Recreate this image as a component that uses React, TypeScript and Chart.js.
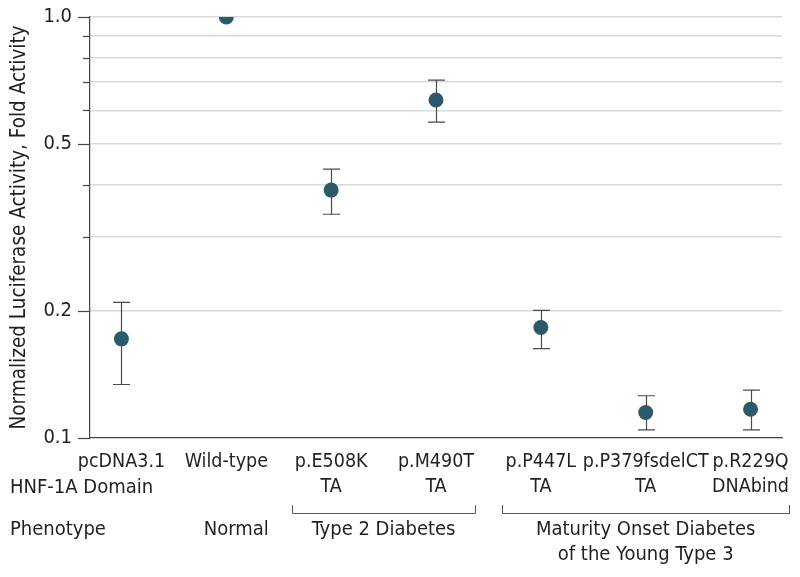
import React, { useEffect, useRef } from 'react';
import { Chart, registerables } from 'chart.js';

Chart.register(...registerables);

const categories = ['pcDNA3.1', 'Wild-type', 'p.E508K', 'p.M490T', 'p.P447L', 'p.P379fsdelCT', 'p.R229Q'];
const domains = ['', '', 'TA', 'TA', 'TA', 'TA', 'DNAbind'];
const foldActivity = [0.172, 1.0, 0.388, 0.635, 0.183, 0.115, 0.117];
const errorLow: (number | null)[] = [0.134, null, 0.340, 0.563, 0.163, 0.1045, 0.1045];
const errorHigh: (number | null)[] = [0.210, null, 0.435, 0.708, 0.201, 0.126, 0.130];

const yTickValues = [0.1, 0.2, 0.3, 0.4, 0.5, 0.6, 0.7, 0.8, 0.9, 1.0];
const yMajorTicks = [0.1, 0.2, 0.5, 1.0];
const yMajorLabels = ['0.1', '0.2', '0.5', '1.0'];

const phenotypeLabels = [['Normal'], ['Type 2 Diabetes'], ['Maturity Onset Diabetes', 'of the Young Type 3']];
const phenotypeStart = [1, 2, 4];
const phenotypeEnd = [1, 3, 6];
const phenotypeBracket = [false, true, true];

const FONT = "'DejaVu Sans Condensed', 'DejaVu Sans', sans-serif";
const FONT_SIZE = 20;
const TEXT = '#231f20';
const AXIS = '#444444';

const isMajor = (v: number) => yMajorTicks.some((m) => Math.abs(m - v) < 1e-9);

const errorBarPlugin = {
  id: 'errorBars',
  beforeDatasetsDraw(chart: any) {
    const { ctx, scales } = chart;
    const x = scales.x;
    const y = scales.y;
    ctx.save();
    ctx.strokeStyle = '#4a4a4a';
    ctx.lineWidth = 1.2;
    for (let i = 0; i < categories.length; i++) {
      const lo = errorLow[i];
      const hi = errorHigh[i];
      if (lo == null || hi == null) continue;
      const px = Math.round(x.getPixelForValue(i)) + 0.5;
      const yl = y.getPixelForValue(lo);
      const yh = y.getPixelForValue(hi);
      ctx.beginPath();
      ctx.moveTo(px, yl);
      ctx.lineTo(px, yh);
      ctx.moveTo(px - 8.5, yl);
      ctx.lineTo(px + 8.5, yl);
      ctx.moveTo(px - 8.5, yh);
      ctx.lineTo(px + 8.5, yh);
      ctx.stroke();
    }
    ctx.restore();
  },
};

const annotationPlugin = {
  id: 'annotations',
  afterDraw(chart: any) {
    const { ctx, scales } = chart;
    const x = scales.x;
    const y = scales.y;
    ctx.save();
    // y-axis tick marks
    ctx.strokeStyle = AXIS;
    ctx.lineWidth = 1.2;
    const left = y.right;
    for (const v of yTickValues) {
      const py = Math.round(y.getPixelForValue(v)) + 0.5;
      const len = isMajor(v) ? 12 : 7;
      ctx.beginPath();
      ctx.moveTo(left - len, py);
      ctx.lineTo(left, py);
      ctx.stroke();
    }
    // row labels
    ctx.fillStyle = TEXT;
    ctx.font = `${FONT_SIZE}px ${FONT}`;
    ctx.textBaseline = 'middle';
    ctx.textAlign = 'left';
    ctx.fillText('HNF-1A Domain', 10, 488);
    ctx.fillText('Phenotype', 10, 530);
    // phenotype groups
    const unit = x.getPixelForValue(1) - x.getPixelForValue(0);
    ctx.strokeStyle = '#555555';
    ctx.lineWidth = 1;
    for (let g = 0; g < phenotypeLabels.length; g++) {
      const x0 = x.getPixelForValue(phenotypeStart[g]);
      const x1 = x.getPixelForValue(phenotypeEnd[g]);
      if (phenotypeBracket[g]) {
        const bl = Math.round(x0 - 0.37 * unit) + 0.5;
        const br = Math.round(x1 + 0.37 * unit) + 0.5;
        ctx.beginPath();
        ctx.moveTo(bl, 505);
        ctx.lineTo(bl, 513.5);
        ctx.lineTo(br, 513.5);
        ctx.lineTo(br, 505);
        ctx.stroke();
      }
      const cx = phenotypeBracket[g] ? (x0 + x1) / 2 : x0 + 10;
      ctx.textAlign = 'center';
      phenotypeLabels[g].forEach((line, k) => {
        ctx.fillText(line, cx, 530 + k * 25);
      });
    }
    ctx.restore();
  },
};

export default function App() {
  const canvasRef = useRef<HTMLCanvasElement | null>(null);

  useEffect(() => {
    const canvas = canvasRef.current;
    if (!canvas) return;
    Chart.defaults.font.family = FONT;
    const chart = new Chart(canvas, {
      type: 'scatter',
      data: {
        datasets: [
          {
            data: foldActivity.map((v, i) => ({ x: i, y: v })),
            backgroundColor: '#2d5a6b',
            borderWidth: 0,
            pointRadius: 7.5,
            pointHoverRadius: 7.5,
          },
        ],
      },
      options: {
        animation: false,
        responsive: false,
        devicePixelRatio: 1,
        layout: { autoPadding: false, padding: { top: 17, right: 18, left: 0, bottom: 0 } },
        plugins: { legend: { display: false }, tooltip: { enabled: false } },
        scales: {
          x: {
            type: 'linear',
            min: -0.3,
            max: 6.3,
            afterBuildTicks: (scale: any) => {
              scale.ticks = categories.map((_, i) => ({ value: i }));
            },
            afterFit: (scale: any) => {
              scale.height = 139;
              scale.paddingLeft = 0;
              scale.paddingRight = 0;
            },
            grid: { display: false, drawTicks: false },
            border: { display: true, color: AXIS, width: 1.2 },
            ticks: {
              autoSkip: false,
              maxRotation: 0,
              minRotation: 0,
              padding: 11,
              color: TEXT,
              font: { size: 19.5, lineHeight: 1.28 },
              callback: (v: any) => {
                const i = Math.round(Number(v));
                return domains[i] ? [categories[i], domains[i]] : categories[i];
              },
            },
          },
          y: {
            type: 'logarithmic',
            min: 0.1,
            max: 1.0,
            afterBuildTicks: (scale: any) => {
              scale.ticks = yTickValues.map((v) => ({ value: v, major: isMajor(v) }));
            },
            afterFit: (scale: any) => {
              scale.width = 90;
              scale.paddingTop = 0;
              scale.paddingBottom = 0;
            },
            grid: {
              drawTicks: false,
              lineWidth: 1.6,
              color: (c: any) => (c.tick && Math.abs(c.tick.value - 0.1) < 1e-9 ? 'rgba(0,0,0,0)' : '#d9d9d9'),
            },
            border: { display: true, color: AXIS, width: 1.2 },
            title: {
              display: true,
              text: 'Normalized Luciferase Activity, Fold Activity',
              color: TEXT,
              font: { size: 20.5, lineHeight: 1.2 },
              padding: { top: 7, bottom: 0 },
            },
            ticks: {
              autoSkip: false,
              padding: 18,
              color: TEXT,
              font: { size: FONT_SIZE },
              callback: (v: any) => {
                const idx = yMajorTicks.findIndex((m) => Math.abs(m - Number(v)) < 1e-9);
                return idx >= 0 ? yMajorLabels[idx] : '';
              },
            },
          },
        },
      },
      plugins: [errorBarPlugin, annotationPlugin],
    });
    return () => chart.destroy();
  }, []);

  return (
    <div style={{ position: 'absolute', left: 0, top: 0, width: 800, height: 577, background: '#ffffff' }}>
      <canvas ref={canvasRef} width={800} height={577} />
    </div>
  );
}
